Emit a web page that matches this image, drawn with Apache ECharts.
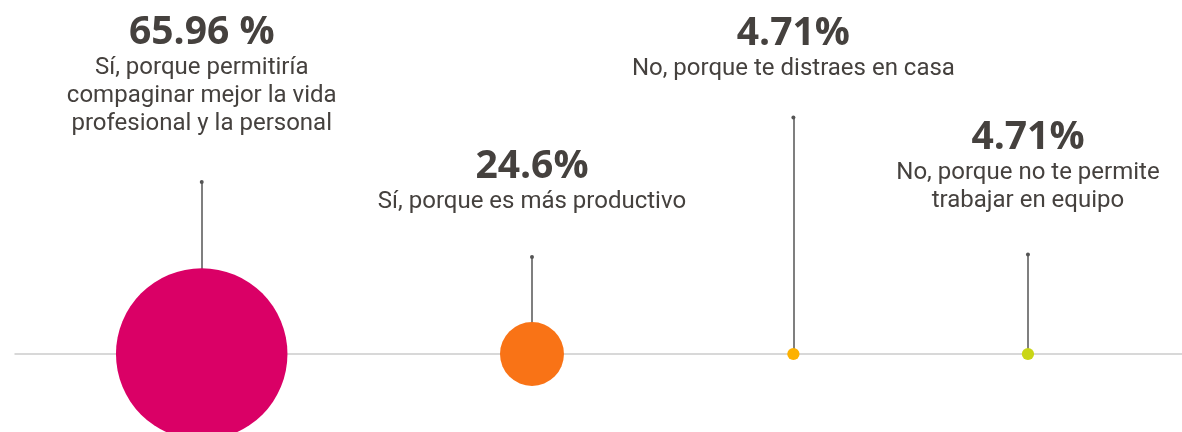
<!DOCTYPE html>
<html>
<head>
<meta charset="utf-8">
<script src="https://cdn.jsdelivr.net/npm/echarts@6/dist/echarts.min.js"></script>
<style>
html,body{margin:0;padding:0;background:#fff;}
#c{width:1182px;height:432px;}
</style>
</head>
<body>
<div id="c"></div>
<script>
// ---- data ----
const categories = [
  'Sí, porque permitiría\ncompaginar mejor la vida\nprofesional y la personal',
  'Sí, porque es más productivo',
  'No, porque te distraes en casa',
  'No, porque no te permite\ntrabajar en equipo'
];
const values = [65.96, 24.6, 4.71, 4.71];
const valueLabels = ['65.96 %', '24.6%', '4.71%', '4.71%'];

// ---- layout / style ----
const colors = ['#da0066', '#f97316', '#fdb100', '#c9d617'];
const xSlots = [16.0, 44.3, 66.7, 86.8];      // horizontal slot of each bubble (0-100)
const leaderTops = [48.6, 27.4, 66.8, 28.1];  // height of each leader line (0-100)
const labelGaps = [44, 41, 35, 40];           // px between leader top and its label
const pxPerPercent = 2.6;
const textColor = '#45413e';

const chart = echarts.init(document.getElementById('c'));

const bubbleData = values.map((v, i) => ({
  value: [xSlots[i], 0, v],
  symbolSize: v * pxPerPercent,
  itemStyle: { color: colors[i], opacity: 1 }
}));

const labelData = values.map((v, i) => ({
  value: [xSlots[i], leaderTops[i]],
  label: {
    distance: labelGaps[i],
    formatter: '{p|' + valueLabels[i] + '}\n' +
      categories[i].split('\n').map(s => '{d|' + s + '}').join('\n')
  }
}));

chart.setOption({
  animation: false,
  grid: { left: 15, right: 0, top: 0, bottom: 78 },
  xAxis: {
    type: 'value', min: 0, max: 100,
    axisLine: { show: true, onZero: false, lineStyle: { color: '#cccccc', width: 1.5 } },
    axisTick: { show: false }, axisLabel: { show: false }, splitLine: { show: false }
  },
  yAxis: {
    type: 'value', min: 0, max: 100,
    axisLine: { show: false }, axisTick: { show: false },
    axisLabel: { show: false }, splitLine: { show: false }
  },
  series: [
    {
      name: 'leaders', type: 'scatter', z: 1, symbolSize: 0, silent: true,
      data: labelData,
      clip: false,
      itemStyle: { opacity: 1 },
      label: {
        show: true, position: 'top', align: 'center',
        color: textColor, opacity: 1,
        rich: {
          p: { fontFamily: 'Open Sans', fontSize: 39, fontWeight: 'bold', color: textColor, lineHeight: 42, align: 'center' },
          d: { fontFamily: 'Roboto', fontSize: 24, color: textColor, lineHeight: 28, align: 'center' }
        }
      },
      markLine: {
        silent: true,
        z: 1,
        symbol: ['none', 'circle'],
        symbolSize: 4,
        label: { show: false },
        lineStyle: { color: '#555555', width: 1.5, type: 'solid', opacity: 1 },
        emphasis: { disabled: true },
        data: xSlots.map((x, i) => [{ coord: [x, 0] }, { coord: [x, leaderTops[i]] }])
      }
    },
    {
      name: 'bubbles', type: 'scatter', z: 10, clip: false, silent: true,
      data: bubbleData
    }
  ]
});
</script>
</body>
</html>
